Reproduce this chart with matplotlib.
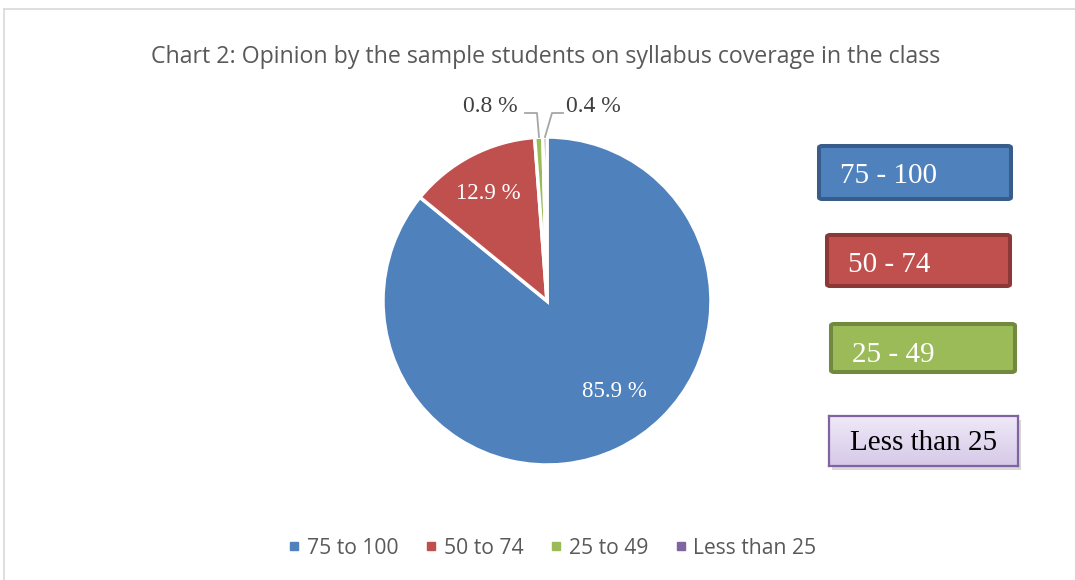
import matplotlib
matplotlib.use("Agg")
import matplotlib.pyplot as plt
from matplotlib.patches import Rectangle, FancyBboxPatch
from matplotlib.lines import Line2D
from matplotlib.colors import LinearSegmentedColormap
import numpy as np

# ---- data ----
categories = ["75 to 100", "50 to 74", "25 to 49", "Less than 25"]
values = [85.9, 12.9, 0.8, 0.4]
value_labels = ["85.9 %", "12.9 %", "0.8 %", "0.4 %"]
box_labels = ["75 - 100", "50 - 74", "25 - 49", "Less than 25"]
title = "Chart 2: Opinion by the sample students on syllabus coverage in the class"

colors = ["#4F81BD", "#C0504D", "#9BBB59", "#8064A2"]

W, H = 1075, 580
fig = plt.figure(figsize=(W / 100, H / 100), dpi=100)

def fx(x):
    return x / W

def fy(y):
    return 1 - y / H

# frame
fig.add_artist(Line2D([fx(4), fx(1075)], [fy(9), fy(9)], color="#D9D9D9", lw=1.2))
fig.add_artist(Line2D([fx(4), fx(4)], [fy(9), fy(580)], color="#D9D9D9", lw=1.2))

# title
fig.text(fx(546), fy(57), title, ha="center", va="center", fontsize=16.7,
         color="#595959", family="Open Sans")

# pie
cx, cy, r = 547, 301, 164
ax = fig.add_axes([fx(cx - r), fy(cy + r), 2 * r / W, 2 * r / H])
wedges, _ = ax.pie(values, colors=colors, startangle=90, counterclock=False,
                   radius=1, wedgeprops=dict(edgecolor="white", linewidth=2.5))
ax.set_xlim(-1, 1)
ax.set_ylim(-1, 1)
ax.set_aspect("equal")
ax.axis("off")

serif = "Liberation Serif"
# inside labels
ax.text(0.41, -0.55, value_labels[0], ha="center", va="center", fontsize=16.5,
        color="white", family=serif)
ax.text(-0.36, 0.655, value_labels[1], ha="center", va="center", fontsize=16.5,
        color="#FFFFFF", family=serif)

# outside labels with leader lines (figure pixel coords)
fig.text(fx(490), fy(107), value_labels[2], ha="center", va="center", fontsize=17,
         color="#404040", family=serif)
fig.text(fx(593), fy(107), value_labels[3], ha="center", va="center", fontsize=17,
         color="#404040", family=serif)
fig.add_artist(Line2D([fx(525), fx(537), fx(539)], [fy(113), fy(113), fy(137)],
                      color="#A6A6A6", lw=1.3))
fig.add_artist(Line2D([fx(563), fx(552), fx(545)], [fy(113), fy(113), fy(137)],
                      color="#A6A6A6", lw=1.3))

# right-side boxes
boxes = [
    (819, 146, 1011, 199, "#4F81BD", "#385D8A", 2.9, "white", 840, 176),
    (827, 235, 1010, 286, "#C0504D", "#8C3836", 2.9, "white", 848, 265),
    (831, 324, 1015, 372, "#9BBB59", "#71893F", 2.9, "white", 852, 355),
]
for (x0, y0, x1, y1, fc, ec, lw, tc, tx, ty), lab in zip(boxes, box_labels[:3]):
    fig.add_artist(FancyBboxPatch((fx(x0), fy(y1)), fx(x1 - x0), (y1 - y0) / H,
                                  boxstyle="round,pad=0,rounding_size=0.003",
                                  transform=fig.transFigure, fc=fc, ec=ec, lw=lw))
    fig.text(fx(tx), fy(ty), lab, ha="left", va="center", fontsize=21,
             color=tc, family=serif)

# purple box with shadow and gradient
px0, py0, px1, py1 = 829, 416, 1018, 466
sh = Rectangle((fx(px0 + 3), fy(py1 + 4)), fx(px1 - px0), (py1 - py0) / H,
               transform=fig.transFigure, fc="#C8C8C8", ec="none", alpha=0.7,
               zorder=-1)
fig.add_artist(sh)
gax = fig.add_axes([fx(px0), fy(py1), fx(px1 - px0), (py1 - py0) / H])
gax.set_zorder(2)
grad = np.linspace(0, 1, 100).reshape(-1, 1)
cmap = LinearSegmentedColormap.from_list("pg", ["#EFE9F7", "#D6C9E8"])
gax.imshow(grad, aspect="auto", cmap=cmap, extent=[0, 1, 0, 1], origin="upper")
gax.set_xticks([])
gax.set_yticks([])
for s in gax.spines.values():
    s.set_color("#8064A2")
    s.set_linewidth(1.6)
t = fig.text(fx(850), fy(443), box_labels[3], ha="left", va="center", fontsize=21,
             color="black", family=serif)
t.set_zorder(5)

# bottom legend
handles = [Line2D([], [], marker="s", linestyle="none", markersize=5.2,
                  markerfacecolor=c, markeredgecolor=c) for c in colors]
fig.legend(handles, categories, loc="center", bbox_to_anchor=(fx(552), fy(548)),
           ncol=4, frameon=False, handlelength=0.6, handletextpad=0.3,
           columnspacing=1.25, prop=dict(family="Open Sans", size=15.2),
           labelcolor="#595959")

fig.savefig("out.png", dpi=100)
